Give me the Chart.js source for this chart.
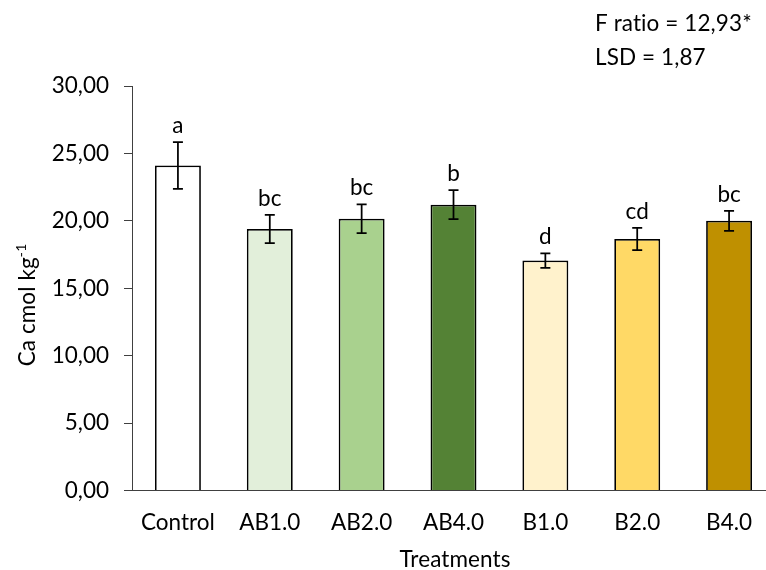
<!DOCTYPE html>
<html>
<head>
<meta charset="utf-8">
<script src="https://cdn.jsdelivr.net/npm/chart.js@4.4.1/dist/chart.umd.min.js"></script>
<style>
  html, body { margin: 0; padding: 0; background: #fff; overflow: hidden; }
  #wrap { position: relative; width: 790px; height: 570px; }
</style>
</head>
<body>
<div id="wrap"><canvas id="c"></canvas></div>
<script>
const categories = ["Control", "AB1.0", "AB2.0", "AB4.0", "B1.0", "B2.0", "B4.0"];
const means = [24.10, 19.40, 20.15, 21.20, 17.05, 18.65, 20.00];
const errors = [1.73, 1.05, 1.07, 1.08, 0.54, 0.82, 0.74];
const letters = ["a", "bc", "bc", "b", "d", "cd", "bc"];
const yTicks = [0, 5, 10, 15, 20, 25, 30];
const statLines = ["F ratio = 12,93*", "LSD = 1,87"];
const barColors = ["#FFFFFF", "#E2EFDA", "#A9D18E", "#548235", "#FFF2CC", "#FFD966", "#BF9000"];

const FONT = "Lato, 'Open Sans', sans-serif";
const FS = 22.5;

const extras = {
  id: 'extras',
  afterDatasetsDraw(chart) {
    const ctx = chart.ctx;
    const meta = chart.getDatasetMeta(0);
    const y = chart.scales.y;
    ctx.save();
    ctx.strokeStyle = '#000';
    ctx.lineWidth = 1.75;
    ctx.fillStyle = '#000';
    ctx.font = FS + 'px ' + FONT;
    ctx.textAlign = 'center';
    ctx.textBaseline = 'alphabetic';
    meta.data.forEach((bar, i) => {
      const x = bar.x;
      const yt = y.getPixelForValue(means[i] + errors[i]);
      const yb = y.getPixelForValue(means[i] - errors[i]);
      ctx.beginPath();
      ctx.moveTo(x, yt); ctx.lineTo(x, yb);
      ctx.moveTo(x - 5, yt); ctx.lineTo(x + 5, yt);
      ctx.moveTo(x - 5, yb); ctx.lineTo(x + 5, yb);
      ctx.stroke();
      ctx.fillText(letters[i], x, yt - 9);
    });
    ctx.restore();
  },
  afterDraw(chart) {
    const ctx = chart.ctx;
    ctx.save();
    ctx.fillStyle = '#000';
    ctx.font = FS + 'px ' + FONT;
    try { ctx.letterSpacing = '0.1px'; } catch (e) {}
    // stats text
    ctx.textAlign = 'left';
    ctx.textBaseline = 'middle';
    ctx.fillText(statLines[0], 595, 24);
    ctx.fillText(statLines[1], 595, 58);
    // x title
    ctx.textAlign = 'center';
    ctx.fillText('Treatments', 455, 560);
    // y title with superscript
    ctx.translate(28, 305);
    ctx.rotate(-Math.PI / 2);
    const main = 'Ca cmol kg';
    const supFS = Math.round(FS * 0.62);
    ctx.font = FS + 'px ' + FONT;
    const w1 = ctx.measureText(main).width;
    ctx.font = supFS + 'px ' + FONT;
    const w2 = ctx.measureText('-1').width;
    const total = w1 + w2;
    ctx.textAlign = 'left';
    ctx.font = FS + 'px ' + FONT;
    ctx.fillText(main, -total / 2, 0);
    ctx.font = supFS + 'px ' + FONT;
    ctx.fillText('-1', -total / 2 + w1, -7);
    ctx.restore();
  }
};

new Chart(document.getElementById('c'), {
  type: 'bar',
  data: {
    labels: categories,
    datasets: [{
      data: means,
      backgroundColor: barColors,
      borderColor: '#000',
      borderWidth: 1.75,
      barPercentage: 0.5,
      categoryPercentage: 1.0
    }]
  },
  options: {
    responsive: true,
    maintainAspectRatio: false,
    animation: false,
    layout: { padding: { top: 86, right: 15, left: 0, bottom: 0 } },
    plugins: { legend: { display: false }, tooltip: { enabled: false } },
    scales: {
      x: {
        grid: { display: false, drawTicks: false },
        border: { display: true, color: '#404040', width: 1 },
        ticks: { color: '#000', font: { family: FONT, size: FS }, padding: 19 },
        afterFit(s) { s.height = 79.5; }
      },
      y: {
        min: 0, max: 30,
        afterBuildTicks(s) { s.ticks = yTicks.map(v => ({ value: v })); },
        grid: { drawOnChartArea: false, drawTicks: true, tickLength: 8, color: '#404040' },
        border: { display: true, color: '#404040', width: 1 },
        ticks: {
          color: '#000', font: { family: FONT, size: FS }, padding: 15,
          callback: v => v.toFixed(2).replace('.', ',')
        },
        afterFit(s) { s.width = 132; }
      }
    }
  },
  plugins: [extras]
});
</script>
</body>
</html>
